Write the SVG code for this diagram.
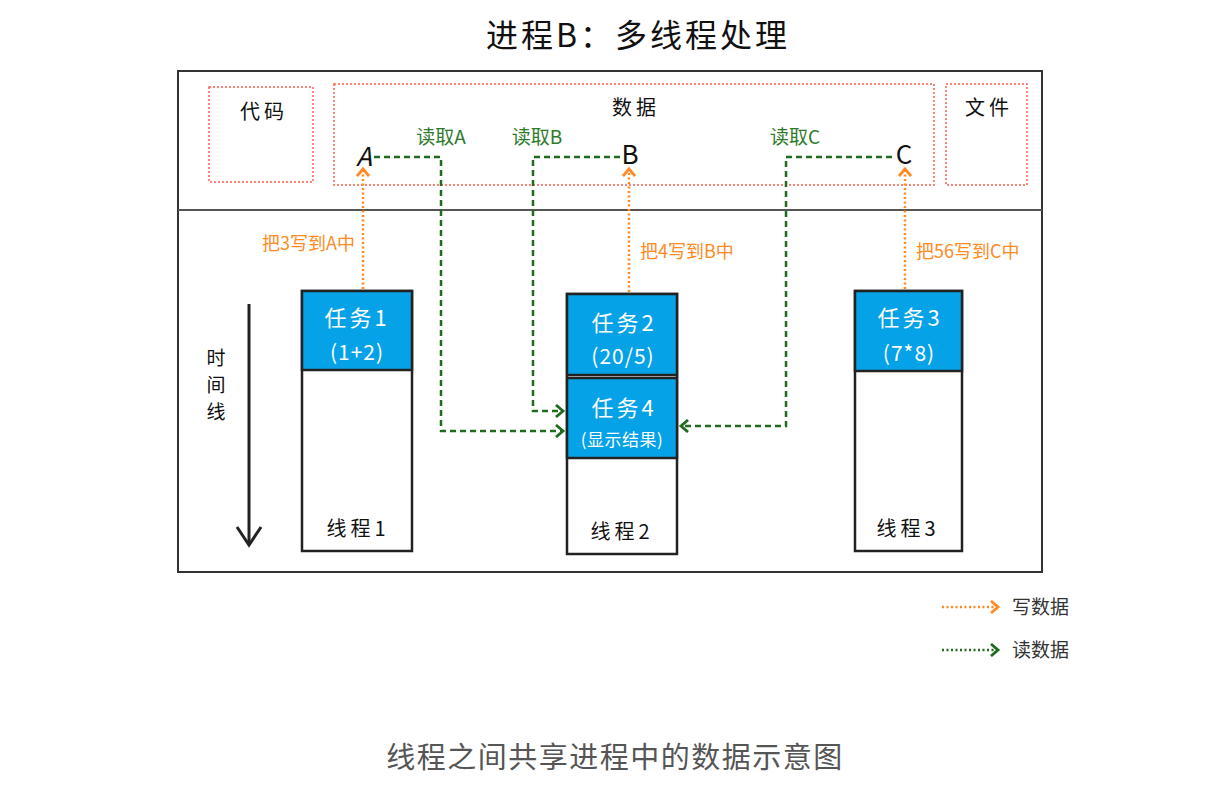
<svg xmlns="http://www.w3.org/2000/svg" width="1230" height="812" viewBox="0 0 1230 812">
<style>
text{font-family:"Noto Sans CJK SC","Noto Sans",sans-serif;}
.box{fill:#fff;stroke:#222;stroke-width:2.5;}
.blue{fill:#06a2e8;stroke:#222;stroke-width:2.5;}
.seg{fill:none;stroke:#ff5a4a;stroke-width:1.5;stroke-dasharray:2 2;}
.w{fill:#fff;font-size:22px;text-anchor:middle;letter-spacing:3px;}
.ws{fill:#fff;font-size:21px;text-anchor:middle;letter-spacing:1px;}
.k{fill:#111;font-size:20px;text-anchor:middle;letter-spacing:4px;}
.v{fill:#111;font-size:19px;text-anchor:middle;}
.g{fill:#2e7a2a;font-size:19px;text-anchor:middle;}
.o{fill:#ff8a22;font-size:18px;}
.wr{fill:none;stroke:#ff8a22;stroke-width:2.5;stroke-dasharray:2 2.5;}
.rd{fill:none;stroke:#1f6b1f;stroke-width:2.5;stroke-dasharray:6 4;}
.rdl{fill:none;stroke:#1f6b1f;stroke-width:2.5;stroke-dasharray:2 2.5;}
</style>
<defs>
<marker id="ao" markerWidth="12" markerHeight="14" refX="8" refY="7" orient="auto" markerUnits="userSpaceOnUse"><path d="M1,1 L8,7 L1,13" fill="none" stroke="#ff8a22" stroke-width="2.8"/></marker>
<marker id="ag" markerWidth="12" markerHeight="14" refX="8" refY="7" orient="auto" markerUnits="userSpaceOnUse"><path d="M1,1 L8,7 L1,13" fill="none" stroke="#1f6b1f" stroke-width="2.8"/></marker>
</defs>
<rect width="1230" height="812" fill="#fff"/>
<text x="638" y="47" font-size="32" text-anchor="middle" fill="#111" letter-spacing="3">进程B：多线程处理</text>

<g id="process">
<rect x="178" y="71" width="864" height="501" fill="none" stroke="#333" stroke-width="2"/>
<line x1="178" y1="210" x2="1042" y2="210" stroke="#555" stroke-width="2"/>
</g>
<g id="code">
<rect class="seg" x="209" y="87" width="104" height="95"/>
<text class="k" x="264" y="119">代码</text>
</g>
<g id="data">
<rect class="seg" x="334" y="84" width="600" height="101"/>
<text class="k" x="636" y="115">数据</text>
<text x="364" y="166" font-size="26" text-anchor="middle" fill="#111" font-family="Liberation Sans,sans-serif" font-style="italic">A</text>
<text x="630" y="164" font-size="26" text-anchor="middle" fill="#111" font-family="Liberation Sans,sans-serif">B</text>
<text x="904" y="164" font-size="26" text-anchor="middle" fill="#111" font-family="Liberation Sans,sans-serif">C</text>
</g>
<g id="file">
<rect class="seg" x="946" y="84" width="81" height="101"/>
<text class="k" x="989" y="115">文件</text>
</g>

<g id="timeline">
<line x1="249" y1="304" x2="249" y2="543" stroke="#222" stroke-width="3"/>
<path d="M237,527 L249,545 L261,527" fill="none" stroke="#222" stroke-width="3"/>
<text class="v" x="216" y="365">时</text>
<text class="v" x="216" y="392">间</text>
<text class="v" x="216" y="419">线</text>
</g>

<g id="thread1">
<rect class="box" x="302" y="291" width="110" height="260"/>
<rect class="blue" x="302" y="291" width="110" height="79"/>
<text class="w" x="357" y="326">任务1</text>
<text class="ws" x="357" y="360">(1+2)</text>
<text class="k" x="358" y="536">线程1</text>
</g>
<g id="thread2">
<rect class="box" x="567" y="294" width="110" height="260"/>
<rect class="blue" x="567" y="294" width="110" height="81"/>
<rect class="blue" x="567" y="378" width="110" height="80"/>
<text class="w" x="624" y="331">任务2</text>
<text class="ws" x="623" y="364">(20/5)</text>
<text class="w" x="624" y="416">任务4</text>
<text class="ws" x="622" y="446" style="font-size:17px;letter-spacing:0.5px">(显示结果)</text>
<text class="k" x="622" y="539">线程2</text>
</g>
<g id="thread3">
<rect class="box" x="855" y="291" width="107" height="260"/>
<rect class="blue" x="855" y="291" width="107" height="80"/>
<text class="w" x="910" y="326">任务3</text>
<text class="ws" x="909" y="361">(7*8)</text>
<text class="k" x="908" y="536">线程3</text>
</g>

<g id="connectors">
<line class="wr" x1="363" y1="289" x2="363" y2="169" marker-end="url(#ao)"/>
<line class="wr" x1="629" y1="292" x2="629" y2="169" marker-end="url(#ao)"/>
<line class="wr" x1="905" y1="289" x2="905" y2="169" marker-end="url(#ao)"/>
<polyline class="rd" points="374,157 441,157 441,431 563,431" marker-end="url(#ag)"/>
<polyline class="rd" points="620,157 533,157 533,411 563,411" marker-end="url(#ag)"/>
<polyline class="rd" points="892,157 786,157 786,426 681,426" marker-end="url(#ag)"/>
<text class="g" x="441" y="144">读取A</text>
<text class="g" x="537" y="144">读取B</text>
<text class="g" x="795" y="144">读取C</text>
<text class="o" x="355" y="250" text-anchor="end">把3写到A中</text>
<text class="o" x="640" y="258">把4写到B中</text>
<text class="o" x="916" y="258">把56写到C中</text>
</g>

<g id="legend">
<line class="wr" x1="942" y1="607" x2="998" y2="607" marker-end="url(#ao)"/>
<text x="1012" y="614" font-size="19" fill="#333">写数据</text>
<line class="rdl" x1="942" y1="650" x2="998" y2="650" marker-end="url(#ag)"/>
<text x="1012" y="657" font-size="19" fill="#333">读数据</text>
</g>

<text x="615" y="768" font-size="29" text-anchor="middle" fill="#555" letter-spacing="1.5">线程之间共享进程中的数据示意图</text>
</svg>
